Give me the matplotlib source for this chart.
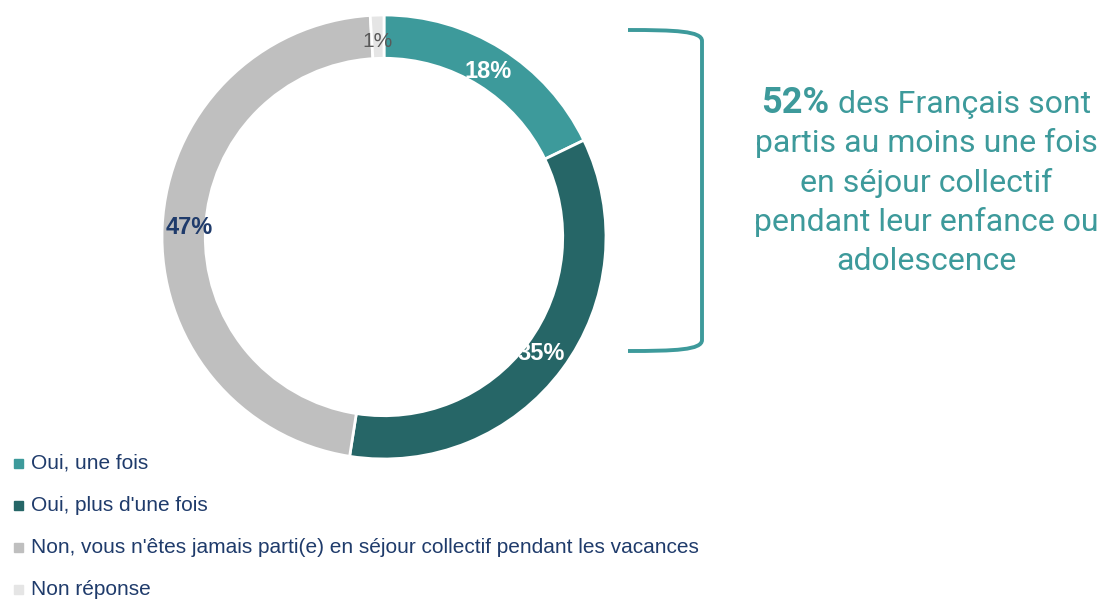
import numpy as np
import matplotlib.pyplot as plt
from matplotlib.patches import Rectangle
from matplotlib.path import Path
from matplotlib.patches import PathPatch

labels = ["Oui, une fois", "Oui, plus d'une fois",
          "Non, vous n'êtes jamais parti(e) en séjour collectif pendant les vacances",
          "Non réponse"]
values = [18, 35, 47, 1]
colors = ["#3D9A9B", "#266667", "#BFBFBF", "#E5E5E5"]
pct_colors = ["white", "white", "#1F3B6B", "#595959"]
pct_weights = ["bold", "bold", "bold", "normal"]

plt.rcParams['font.family'] = ['Liberation Sans', 'DejaVu Sans']

W, H = 1104, 600
fig = plt.figure(figsize=(W / 100, H / 100), dpi=100)

# donut
cx, cy, R = 384, 237, 222
ax = fig.add_axes([(cx - R) / W, (H - cy - R) / H, 2 * R / W, 2 * R / H])
wedges, _ = ax.pie(values, colors=colors, startangle=90, counterclock=False,
                   radius=1.0, wedgeprops=dict(width=0.195, edgecolor="white", linewidth=2))
ax.set_xlim(-1, 1)
ax.set_ylim(-1, 1)
ax.set_aspect("equal")
ax.axis("off")

for w, v, c, fw in zip(wedges, values, pct_colors, pct_weights):
    ang = np.deg2rad((w.theta1 + w.theta2) / 2)
    r = 0.88
    ax.text(r * np.cos(ang), r * np.sin(ang), f"{v}%", ha="center", va="center",
            fontsize=17 if fw == "bold" else 15, color=c, fontweight=fw)

# legend
for i, (lab, col) in enumerate(zip(labels, colors)):
    y = 463 + i * 42.3
    fig.add_artist(Rectangle((14 / W, 1 - (y + 4.5) / H), 9 / W, 9 / H,
                             transform=fig.transFigure, color=col))
    fig.text(31 / W, 1 - y / H, lab, ha="left", va="center", fontsize=15, color="#1F3B6B")

# bracket
teal = "#3D9A9B"
bx = 702
verts = [(628, 30), (675, 30), (bx, 31), (bx, 41), (bx, 340), (bx, 350), (675, 351), (628, 351)]
codes = [Path.MOVETO, Path.CURVE4, Path.CURVE4, Path.CURVE4,
         Path.LINETO, Path.CURVE4, Path.CURVE4, Path.CURVE4]
verts = [(x / W, 1 - y / H) for x, y in verts]
fig.add_artist(PathPatch(Path(verts, codes), transform=fig.transFigure, fill=False,
                         edgecolor=teal, linewidth=2.8, capstyle="butt"))

# annotation text
tx = 926
fam = ['Roboto', 'DejaVu Sans']
big = fig.text(0, 0, "52%", fontsize=26, fontweight="bold", color=teal, family=fam,
               ha="left", va="baseline")
rest = fig.text(0, 0, " des Français sont", fontsize=23, color=teal, family=fam,
                ha="left", va="baseline")
fig.canvas.draw()
r = fig.canvas.get_renderer()
wb = big.get_window_extent(r).width
wr = rest.get_window_extent(r).width
x0 = tx - (wb + wr) / 2
base = 1 - 113 / H
big.set_position((x0 / W, base))
rest.set_position(((x0 + wb) / W, base))

lines = ["partis au moins une fois", "en séjour collectif",
         "pendant leur enfance ou", "adolescence"]
for i, ln in enumerate(lines):
    fig.text(tx / W, 1 - (113 + 39.3 * (i + 1)) / H, ln, fontsize=23, color=teal,
             family=fam, ha="center", va="baseline")

fig.savefig("out.png", dpi=100)
